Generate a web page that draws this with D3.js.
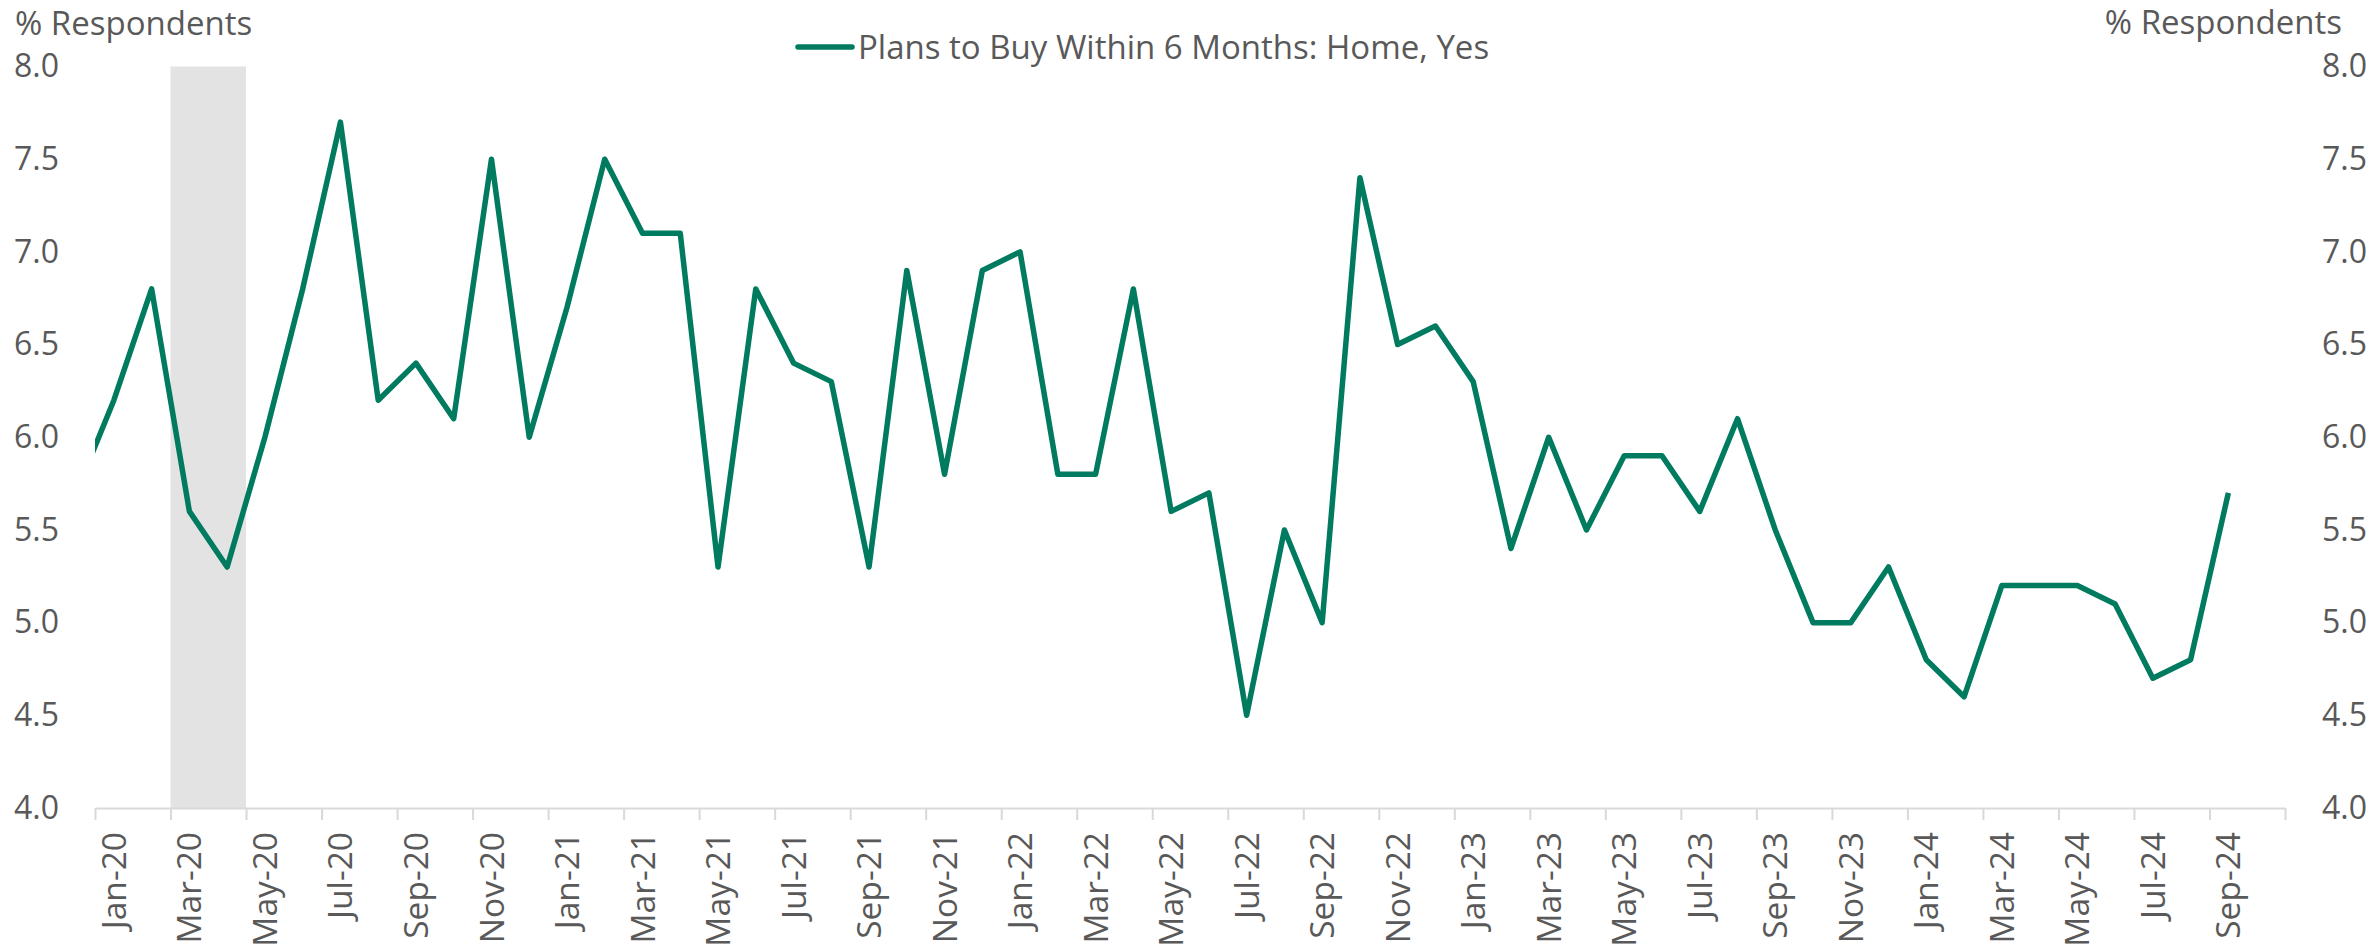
<!DOCTYPE html>
<html>
<head>
<meta charset="utf-8">
<script src="https://cdnjs.cloudflare.com/ajax/libs/d3/7.8.5/d3.min.js"></script>
<style>
  body { margin: 0; background: #fff; }
  svg text { font-family: "Open Sans", sans-serif; fill: #595959; }
</style>
</head>
<body>
<div id="chart"></div>
<script>
// monthly survey, % of respondents planning to buy a home within 6 months
// (Dec-19 sits just left of the axis, the line is clipped at the plot edge)
var months = [
  "Dec-19",
  "Jan-20","Feb-20","Mar-20","Apr-20","May-20","Jun-20","Jul-20","Aug-20","Sep-20","Oct-20","Nov-20","Dec-20",
  "Jan-21","Feb-21","Mar-21","Apr-21","May-21","Jun-21","Jul-21","Aug-21","Sep-21","Oct-21","Nov-21","Dec-21",
  "Jan-22","Feb-22","Mar-22","Apr-22","May-22","Jun-22","Jul-22","Aug-22","Sep-22","Oct-22","Nov-22","Dec-22",
  "Jan-23","Feb-23","Mar-23","Apr-23","May-23","Jun-23","Jul-23","Aug-23","Sep-23","Oct-23","Nov-23","Dec-23",
  "Jan-24","Feb-24","Mar-24","Apr-24","May-24","Jun-24","Jul-24","Aug-24","Sep-24"
];
var homeYes = [
  5.7,
  6.2, 6.8, 5.6, 5.3, 6.0, 6.8, 7.7, 6.2, 6.4, 6.1, 7.5, 6.0,
  6.7, 7.5, 7.1, 7.1, 5.3, 6.8, 6.4, 6.3, 5.3, 6.9, 5.8, 6.9,
  7.0, 5.8, 5.8, 6.8, 5.6, 5.7, 4.5, 5.5, 5.0, 7.4, 6.5, 6.6,
  6.3, 5.4, 6.0, 5.5, 5.9, 5.9, 5.6, 6.1, 5.5, 5.0, 5.0, 5.3,
  4.8, 4.6, 5.2, 5.2, 5.2, 5.1, 4.7, 4.8, 5.7
];
var tickLabels = [
  "Jan-20","Mar-20","May-20","Jul-20","Sep-20","Nov-20",
  "Jan-21","Mar-21","May-21","Jul-21","Sep-21","Nov-21",
  "Jan-22","Mar-22","May-22","Jul-22","Sep-22","Nov-22",
  "Jan-23","Mar-23","May-23","Jul-23","Sep-23","Nov-23",
  "Jan-24","Mar-24","May-24","Jul-24","Sep-24"
];
var yTicks = [4.0, 4.5, 5.0, 5.5, 6.0, 6.5, 7.0, 7.5, 8.0];
var recession = ["Mar-20", "Apr-20"];
var axisStart = "Jan-20", axisEnd = "Oct-24";
var seriesName = "Plans to Buy Within 6 Months: Home, Yes";
var axisTitle = "% Respondents";

var width = 2369, height = 948;
var plotLeft = 95, plotRight = 2285, plotTop = 66.5, plotBottom = 808;
var green = "#007b5f";

var parseMonth = d3.timeParse("%b-%y");
var start = parseMonth(axisStart);
function monthIndex(m){
  return d3.timeMonth.count(start, parseMonth(m));
}

var nMonths = monthIndex(axisEnd) + 1;

var x = d3.scaleLinear().domain([0, nMonths]).range([plotLeft, plotRight]);
var y = d3.scaleLinear().domain([4, 8]).range([plotBottom, plotTop]);

var svg = d3.select("#chart").append("svg")
  .attr("width", width)
  .attr("height", height);

svg.append("defs").append("clipPath")
  .attr("id", "plotclip")
  .append("rect")
  .attr("x", plotLeft).attr("y", 0)
  .attr("width", plotRight - plotLeft).attr("height", height);

// recession shading
svg.append("rect")
  .attr("x", x(monthIndex(recession[0])))
  .attr("y", y(8))
  .attr("width", x(monthIndex(recession[1]) + 1) - x(monthIndex(recession[0])))
  .attr("height", y(4) - y(8))
  .style("fill", "#e3e3e3");

// x axis: ticks between categories every 2 months, labels under categories
var xAxis = svg.append("g")
  .attr("transform", "translate(0," + plotBottom + ")")
  .call(d3.axisBottom(x)
    .tickValues(d3.range(0, nMonths + 1, 2))
    .tickFormat("")
    .tickSize(12)
    .tickSizeOuter(0));
xAxis.selectAll("path, line").style("stroke", "#d9d9d9").style("stroke-width", 2);

svg.append("g")
  .selectAll("text")
  .data(tickLabels)
  .enter()
  .append("text")
  .attr("transform", function(d){
    return "translate(" + x(monthIndex(d) + 0.5) + "," + (plotBottom + 24) + ") rotate(-90)";
  })
  .attr("text-anchor", "end")
  .attr("dy", "0.36em")
  .style("font-size", "33.5px")
  .text(function(d){ return d; });

// y axes, left and right
var yLeft = svg.append("g")
  .attr("transform", "translate(" + plotLeft + ",0)")
  .call(d3.axisLeft(y).tickValues(yTicks).tickSize(0).tickPadding(36).tickFormat(d3.format(".1f")));
var yRight = svg.append("g")
  .attr("transform", "translate(" + plotRight + ",0)")
  .call(d3.axisRight(y).tickValues(yTicks).tickSize(0).tickPadding(37).tickFormat(d3.format(".1f")));
[yLeft, yRight].forEach(function(g){
  g.select(".domain").remove();
  g.selectAll("text").style("font-size", "32px").style("font-family", "\"Open Sans\", sans-serif").attr("fill", "#595959");
});

svg.append("text")
  .attr("x", 15).attr("y", 35)
  .style("font-size", "33px")
  .text(axisTitle);
svg.append("text")
  .attr("x", 2342).attr("y", 34)
  .attr("text-anchor", "end")
  .style("font-size", "33px")
  .text(axisTitle);

// the line
var line = d3.line()
  .x(function(d, i){ return x(monthIndex(months[i]) + 0.5); })
  .y(function(d){ return y(d); });

svg.append("path")
  .datum(homeYes)
  .attr("clip-path", "url(#plotclip)")
  .attr("d", line)
  .style("fill", "none")
  .style("stroke", green)
  .style("stroke-width", 5.5)
  .style("stroke-linejoin", "round");

// legend
var legend = svg.append("g").attr("transform", "translate(798,47)");
legend.append("line")
  .attr("x1", 0).attr("x2", 54)
  .style("stroke", green)
  .style("stroke-width", 5.5)
  .style("stroke-linecap", "round");
legend.append("text")
  .attr("x", 60)
  .attr("dy", "0.36em")
  .style("font-size", "33px")
  .text(seriesName);
</script>
</body>
</html>
